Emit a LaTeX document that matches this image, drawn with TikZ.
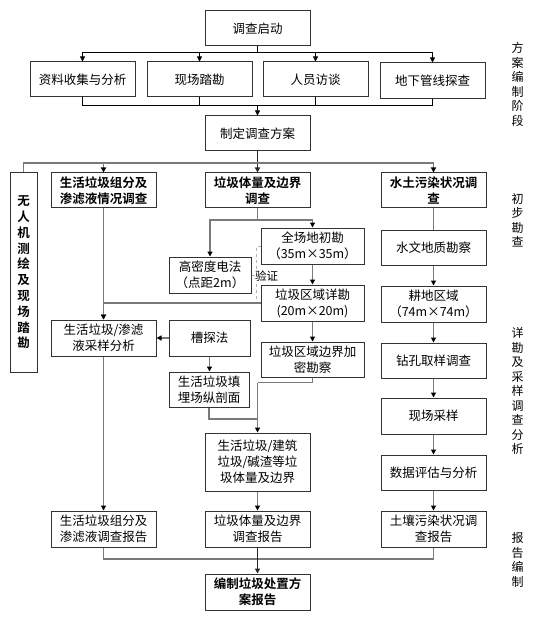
\documentclass[tikz,border=0pt]{standalone}
\usepackage{fontspec}
\setmainfont{Noto Sans CJK SC}[BoldFont={Noto Sans CJK SC Bold}]
\usetikzlibrary{arrows.meta,positioning,calc}
\definecolor{frame}{HTML}{333333}
\definecolor{linkgray}{HTML}{7A7A7A}
\tikzset{
  box/.style={draw=frame,line width=1pt,minimum width=105pt,minimum height=35pt,inner sep=1pt,align=center,font=\fontsize{12.5}{16}\selectfont},
  hbox/.style={box,font=\fontsize{12.5}{16}\selectfont\bfseries},
  link/.style={draw=linkgray,line width=1.2pt},
  arr/.style={link,-{Triangle[length=5pt,width=5pt,color=black]}},
  tline/.style={draw=black,line width=0.8pt},
  tarr/.style={tline,-{Triangle[length=5pt,width=5pt]}},
  barr/.style={draw=black!85,line width=1.6pt,-{Triangle[length=5pt,width=5pt]}},
  vline/.style={draw=gray!60,line width=0.7pt,dashed},
  side/.style={font=\fontsize{12}{14.5}\selectfont,align=center}
}
\begin{document}
\begin{tikzpicture}[x=1pt,y=-1pt]
\useasboundingbox (0,0) rectangle (543,620);

\node[box] (start) at (257.5,28.5) {调查启动};
\node[box] (ziliao) at (82.5,79.5) {资料收集与分析};
\node[box] (xianchang) at (199.5,79.5) {现场踏勘};
\node[box] (renyuan) at (315.5,79.5) {人员访谈};
\node[box,minimum height=36pt] (guanxian) at (432.5,81) {地下管线探查};
\node[box] (plan) at (257.5,133.5) {制定调查方案};

\node[hbox,minimum width=27pt,minimum height=199pt,font=\fontsize{12.5}{15.8}\selectfont\bfseries] (uav) at (23.5,272.5)
  {无\\人\\机\\测\\绘\\及\\现\\场\\踏\\勘};
\node[hbox] (zufen) at (103.5,190.5) {生活垃圾组分及\\渗滤液情况调查};
\node[hbox] (tiliang) at (257.5,190.5) {垃圾体量及边界\\调查};
\node[hbox] (shuitu) at (433.5,190.5) {水土污染状况调\\查};

\node[box,minimum width=82pt,minimum height=36pt] (gaomi) at (210,275) {高密度电法\\（点距2m）};
\node[box,minimum width=103pt,minimum height=36pt] (chukan) at (312.5,246) {全场地初勘\\（35m×35m）};
\node[box,minimum width=103pt,minimum height=36pt] (xiangkan) at (312.5,303) {垃圾区域详勘\\(20m×20m)};
\node[box,minimum width=103pt] (jiami) at (312.5,359.5) {垃圾区域边界加\\密勘察};
\node[box,minimum width=81pt,minimum height=36pt] (caotan) at (209.5,338) {槽探法};
\node[box,minimum width=80pt] (poumian) at (209,389.5) {生活垃圾填\\埋场纵剖面};
\node[box,minimum height=58pt] (bianjie) at (257.5,462) {生活垃圾/建筑\\垃圾/碱渣等垃\\圾体量及边界};
\node[box,minimum height=36pt] (rep2) at (257.5,529) {垃圾体量及边界\\调查报告};
\node[hbox,minimum height=36pt] (final) at (257.5,592) {编制垃圾处置方\\案报告};

\node[box,minimum height=36pt] (caiyang) at (103.5,338) {生活垃圾/渗滤\\液采样分析};
\node[box,minimum height=36pt] (rep1) at (103.5,529) {生活垃圾组分及\\渗滤液调查报告};

\node[box] (shuiwen) at (433.5,247.5) {水文地质勘察};
\node[box,minimum height=36pt] (gengdi) at (433.5,304) {耕地区域\\（74m×74m）};
\node[box] (zuankong) at (433.5,360.5) {钻孔取样调查};
\node[box,minimum height=36pt] (sample) at (433.5,416) {现场采样};
\node[box] (pinggu) at (433.5,472.5) {数据评估与分析};
\node[box,minimum height=36pt] (rep3) at (433.5,529) {土壤污染状况调\\查报告};

\node[side] (stage1) at (517.5,84.5) {方\\案\\编\\制\\阶\\段};
\node[side] (stage2) at (517.5,220) {初\\步\\勘\\查};
\node[side] (stage3) at (517.5,391) {详\\勘\\及\\采\\样\\调\\查\\分\\析};
\node[side] (stage4) at (517.5,560) {报\\告\\编\\制};

% top stage
\coordinate (t1) at (257.5,52.3);
\coordinate (t2) at (257.5,105.5);
\draw[tline] (start) -- (t1);
\foreach \n in {ziliao,xianchang,renyuan,guanxian}{
  \draw[tarr] (t1) -| (\n.north);
  \draw[tline] (\n.south) |- (t2);
}
\draw[tarr] (t2) -- (plan);

\coordinate (t3) at (257.5,163);
\draw[barr] (plan) -- (tiliang);
\draw[link] (uav.north) |- (t3);
\draw[arr] (t3) -| (zufen.north);
\draw[arr] (t3) -| (shuitu.north);

% middle column
\coordinate (t4) at (257.5,220);
\draw[link] (tiliang) -- (t4);
\draw[arr] (t4) -| (gaomi.north);
\draw[arr] (t4) -| (chukan.north);
\draw[arr] (chukan) -- (xiangkan);
\draw[arr] (xiangkan) -- (jiami);
\coordinate (v1) at (256,246);
\draw[vline] (chukan.west) -- (v1) -- (v1 |- xiangkan.west);
\node[font=\fontsize{11.5}{13}\selectfont,fill=white,inner sep=0.5pt,anchor=west] (yanzheng) at (254.5,276) {验证};
\draw[link,line width=0.6pt] (gaomi.east) -- (yanzheng.west);
\draw[arr] (xiangkan.west) -| (caiyang.north);
\draw[arr] (zufen) -- (caiyang);
\draw[arr] (caotan) -- (caiyang);
\draw[arr] (caotan.south) -- (caotan.south |- poumian.north);
\coordinate (t5) at (257.5,382.5);
\coordinate (t6) at (257.5,419);
\draw[link] (jiami.south) |- (t5);
\draw[link] (poumian.south) |- (t6);
\draw[arr] (t5) -- (bianjie);
\draw[arr] (bianjie) -- (rep2);
\draw[arr] (caiyang) -- (rep1);

% right column
\draw[link] (shuitu) -- (shuiwen);
\draw[arr] (shuiwen) -- (gengdi);
\draw[arr] (gengdi) -- (zuankong);
\draw[arr] (zuankong) -- (sample);
\draw[arr] (sample) -- (pinggu);
\draw[arr] (pinggu) -- (rep3);

% reports
\coordinate (t7) at (257.5,559);
\draw[link] (rep1.south) |- (t7);
\draw[link] (rep3.south) |- (t7);
\draw[barr] (rep2) -- (final);
\end{tikzpicture}
\end{document}
